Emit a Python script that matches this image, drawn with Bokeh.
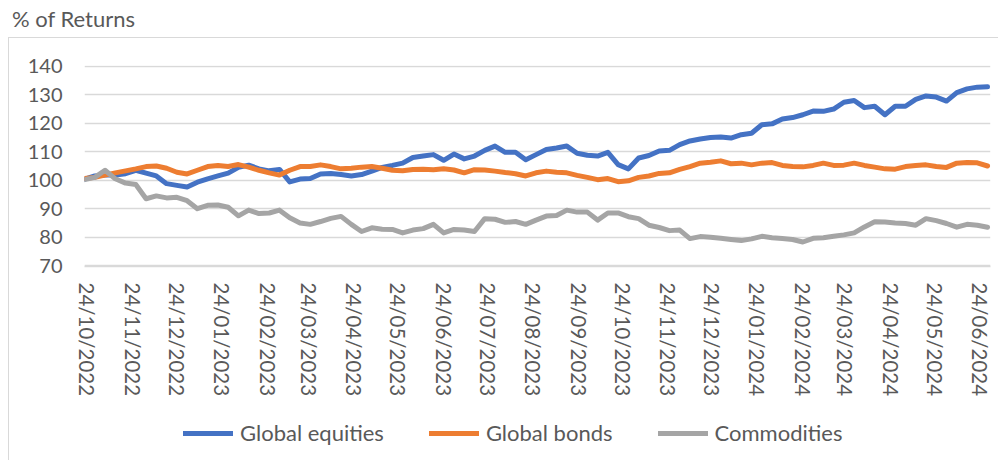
import pandas as pd
from bokeh.plotting import figure
from bokeh.models import (Range1d, FixedTicker, DatetimeTickFormatter, Legend,
                          LegendItem, Div, ColumnDataSource, Spacer)
from bokeh.layouts import column, row
from bokeh.embed import file_html
from bokeh.resources import INLINE

# ---------------- data ----------------
title_text = "% of Returns"
series_names = ["Global equities", "Global bonds", "Commodities"]
series_colors = ["#4472C4", "#ED7D31", "#A5A5A5"]
start_date = "2022-10-22"      # first observation (weekly observations)
range_start = "2022-10-22"
range_end = "2024-07-01"
tick_labels = ["24/10/2022", "24/11/2022", "24/12/2022", "24/01/2023", "24/02/2023",
               "24/03/2023", "24/04/2023", "24/05/2023", "24/06/2023", "24/07/2023",
               "24/08/2023", "24/09/2023", "24/10/2023", "24/11/2023", "24/12/2023",
               "24/01/2024", "24/02/2024", "24/03/2024", "24/04/2024", "24/05/2024",
               "24/06/2024"]
y_ticks = [70, 80, 90, 100, 110, 120, 130, 140]

equities = [100.4, 101.5, 101.8, 101.8, 102.3, 103.5, 102.5, 101.5, 98.8, 98.2, 97.6, 99.3,
            100.5, 101.5, 102.5, 104.5, 105.3, 104.0, 103.3, 103.8, 99.4, 100.4, 100.6,
            102.2, 102.4, 102.0, 101.5, 102.0, 103.2, 104.5, 105.2, 106.0, 108.0, 108.5,
            109.0, 107.0, 109.2, 107.5, 108.5, 110.5, 112.0, 109.8, 109.8, 107.2,
            109.0, 110.8, 111.3, 112.0, 109.5, 108.8, 108.5, 109.8, 105.5, 104.0, 107.8,
            108.7, 110.3, 110.5, 112.5, 113.8, 114.5, 115.0, 115.2, 114.8, 116.0, 116.5,
            119.5, 119.8, 121.5, 122.0, 123.0, 124.3, 124.2, 125.0, 127.4, 128.0, 125.5,
            126.0, 123.0, 126.0, 126.0, 128.4, 129.6, 129.2, 127.8, 130.8, 132.1, 132.7, 132.8]
bonds = [100.6, 101.0, 101.8, 102.6, 103.3, 104.0, 104.8, 105.0, 104.2, 102.8, 102.2, 103.5,
         104.8, 105.2, 104.8, 105.5, 104.6, 103.5, 102.6, 101.8, 103.5, 104.8, 104.8,
         105.4, 104.8, 104.0, 104.2, 104.6, 104.8, 104.2, 103.5, 103.3, 103.8, 103.9,
         103.7, 104.0, 103.6, 102.6, 103.7, 103.6, 103.2, 102.7, 102.3, 101.5,
         102.6, 103.2, 102.8, 102.6, 101.7, 101.0, 100.2, 100.6, 99.5, 99.8, 101.0,
         101.5, 102.4, 102.6, 103.8, 104.8, 106.0, 106.3, 106.8, 105.8, 106.0, 105.4,
         106.0, 106.2, 105.2, 104.8, 104.7, 105.2, 106.0, 105.2, 105.3, 106.0, 105.2,
         104.6, 104.0, 103.9, 104.8, 105.2, 105.4, 104.8, 104.5, 106.0, 106.2, 106.1, 105.0]
commodities = [100.2, 101.0, 103.5, 100.5, 99.0, 98.5, 93.5, 94.5, 93.8, 94.0, 92.8, 90.0,
               91.2, 91.3, 90.5, 87.5, 89.5, 88.3, 88.5, 89.5, 86.8, 85.0, 84.5,
               85.5, 86.6, 87.3, 84.5, 82.0, 83.3, 82.8, 82.7, 81.5, 82.5, 83.0,
               84.5, 81.5, 82.7, 82.5, 82.0, 86.5, 86.3, 85.2, 85.5, 84.5,
               86.0, 87.4, 87.6, 89.5, 88.8, 88.8, 86.0, 88.5, 88.5, 87.2, 86.5,
               84.2, 83.4, 82.3, 82.5, 79.5, 80.2, 80.0, 79.6, 79.2, 78.8, 79.4,
               80.3, 79.8, 79.5, 79.2, 78.3, 79.6, 79.8, 80.3, 80.8, 81.5, 83.6,
               85.4, 85.3, 85.0, 84.8, 84.2, 86.5, 85.8, 84.8, 83.5, 84.5, 84.2, 83.5]

series_cols = ["equities", "bonds", "commodities"]
dates = pd.date_range(start_date, periods=len(equities), freq="7D")
source = ColumnDataSource(dict(date=dates, equities=equities, bonds=bonds,
                               commodities=commodities))

TEXT = "#595959"
GRID = "#D9D9D9"
FONT = "Lato"
BORDER = "1px solid #D9D9D9"

# ---------------- main chart ----------------
p = figure(width=990, height=370, x_axis_type="datetime",
           x_range=Range1d(pd.Timestamp(range_start), pd.Timestamp(range_end)),
           y_range=Range1d(69.7, 140.3),
           output_backend="svg", toolbar_location=None,
           min_border_left=75, min_border_right=9, min_border_top=27,
           min_border_bottom=142, outline_line_color=None,
           background_fill_color="white", border_fill_color="white",
           styles={"border-top": BORDER, "border-left": BORDER})

for col, color in zip(series_cols, series_colors):
    p.line("date", col, source=source, line_color=color, line_width=5,
           line_join="round", line_cap="round")

epoch = pd.Timestamp("1970-01-01")
tick_ms = [(pd.to_datetime(t, format="%d/%m/%Y") - epoch) / pd.Timedelta(milliseconds=1)
           for t in tick_labels]
p.xaxis.ticker = FixedTicker(ticks=tick_ms)
fmt = "%d/%m/%Y"
p.xaxis.formatter = DatetimeTickFormatter(microseconds=fmt, milliseconds=fmt, seconds=fmt,
                                          minsec=fmt, minutes=fmt, hourmin=fmt, hours=fmt,
                                          days=fmt, months=fmt, years=fmt)
p.xaxis.major_label_orientation = "vertical"
p.xaxis.axis_line_color = GRID
p.xaxis.axis_line_width = 1.5
p.xaxis.major_tick_line_color = None
p.xaxis.minor_tick_line_color = None
p.xaxis.major_tick_out = 0
p.xaxis.major_label_standoff = 16
p.xaxis.major_label_text_font = FONT
p.xaxis.major_label_text_font_size = "20.5px"
p.xaxis.major_label_text_color = TEXT

p.yaxis.ticker = FixedTicker(ticks=y_ticks)
p.yaxis.axis_line_color = None
p.yaxis.major_tick_line_color = None
p.yaxis.minor_tick_line_color = None
p.yaxis.major_tick_out = 0
p.yaxis.major_label_standoff = 22
p.yaxis.major_label_text_font = FONT
p.yaxis.major_label_text_font_size = "20px"
p.yaxis.major_label_text_color = TEXT

p.xgrid.grid_line_color = None
p.ygrid.ticker = FixedTicker(ticks=y_ticks)
p.ygrid.grid_line_color = GRID
p.ygrid.grid_line_width = 1.5

# ---------------- legend strip (frame aligned with the chart above) ----------------
pl = figure(width=990, height=53, x_range=Range1d(0, 1), y_range=Range1d(0, 1),
            output_backend="svg", toolbar_location=None,
            x_axis_location=None, y_axis_location=None,
            min_border=0, outline_line_color=None, background_fill_color="white",
            border_fill_color="white", styles={"border-left": BORDER})
pl.xgrid.visible = False
pl.ygrid.visible = False
# legend keys use the same series (their data lie outside this strip's ranges)
leg_renderers = [pl.line("date", col, source=source, line_color=c, line_width=5,
                         line_cap="round")
                 for col, c in zip(series_cols, series_colors)]
legend = Legend(items=[LegendItem(label=n, renderers=[r])
                       for n, r in zip(series_names, leg_renderers)],
                orientation="horizontal", location=(99, 14),
                label_text_font=FONT, label_text_font_size="22px", label_text_color=TEXT,
                glyph_width=50, glyph_height=26, label_height=26,
                label_standoff=7, spacing=45, padding=0, margin=0,
                border_line_color=None, background_fill_alpha=0)
pl.add_layout(legend)

title = Div(text=title_text, width=990, height=29, margin=0,
            styles={"font-family": FONT, "font-size": "22px", "color": TEXT,
                    "padding-left": "4px", "line-height": "22px"})

layout = column(Spacer(height=8),
                row(Spacer(width=8), column(title, p, pl)))

open("out.html", "w").write(file_html(layout, INLINE))
